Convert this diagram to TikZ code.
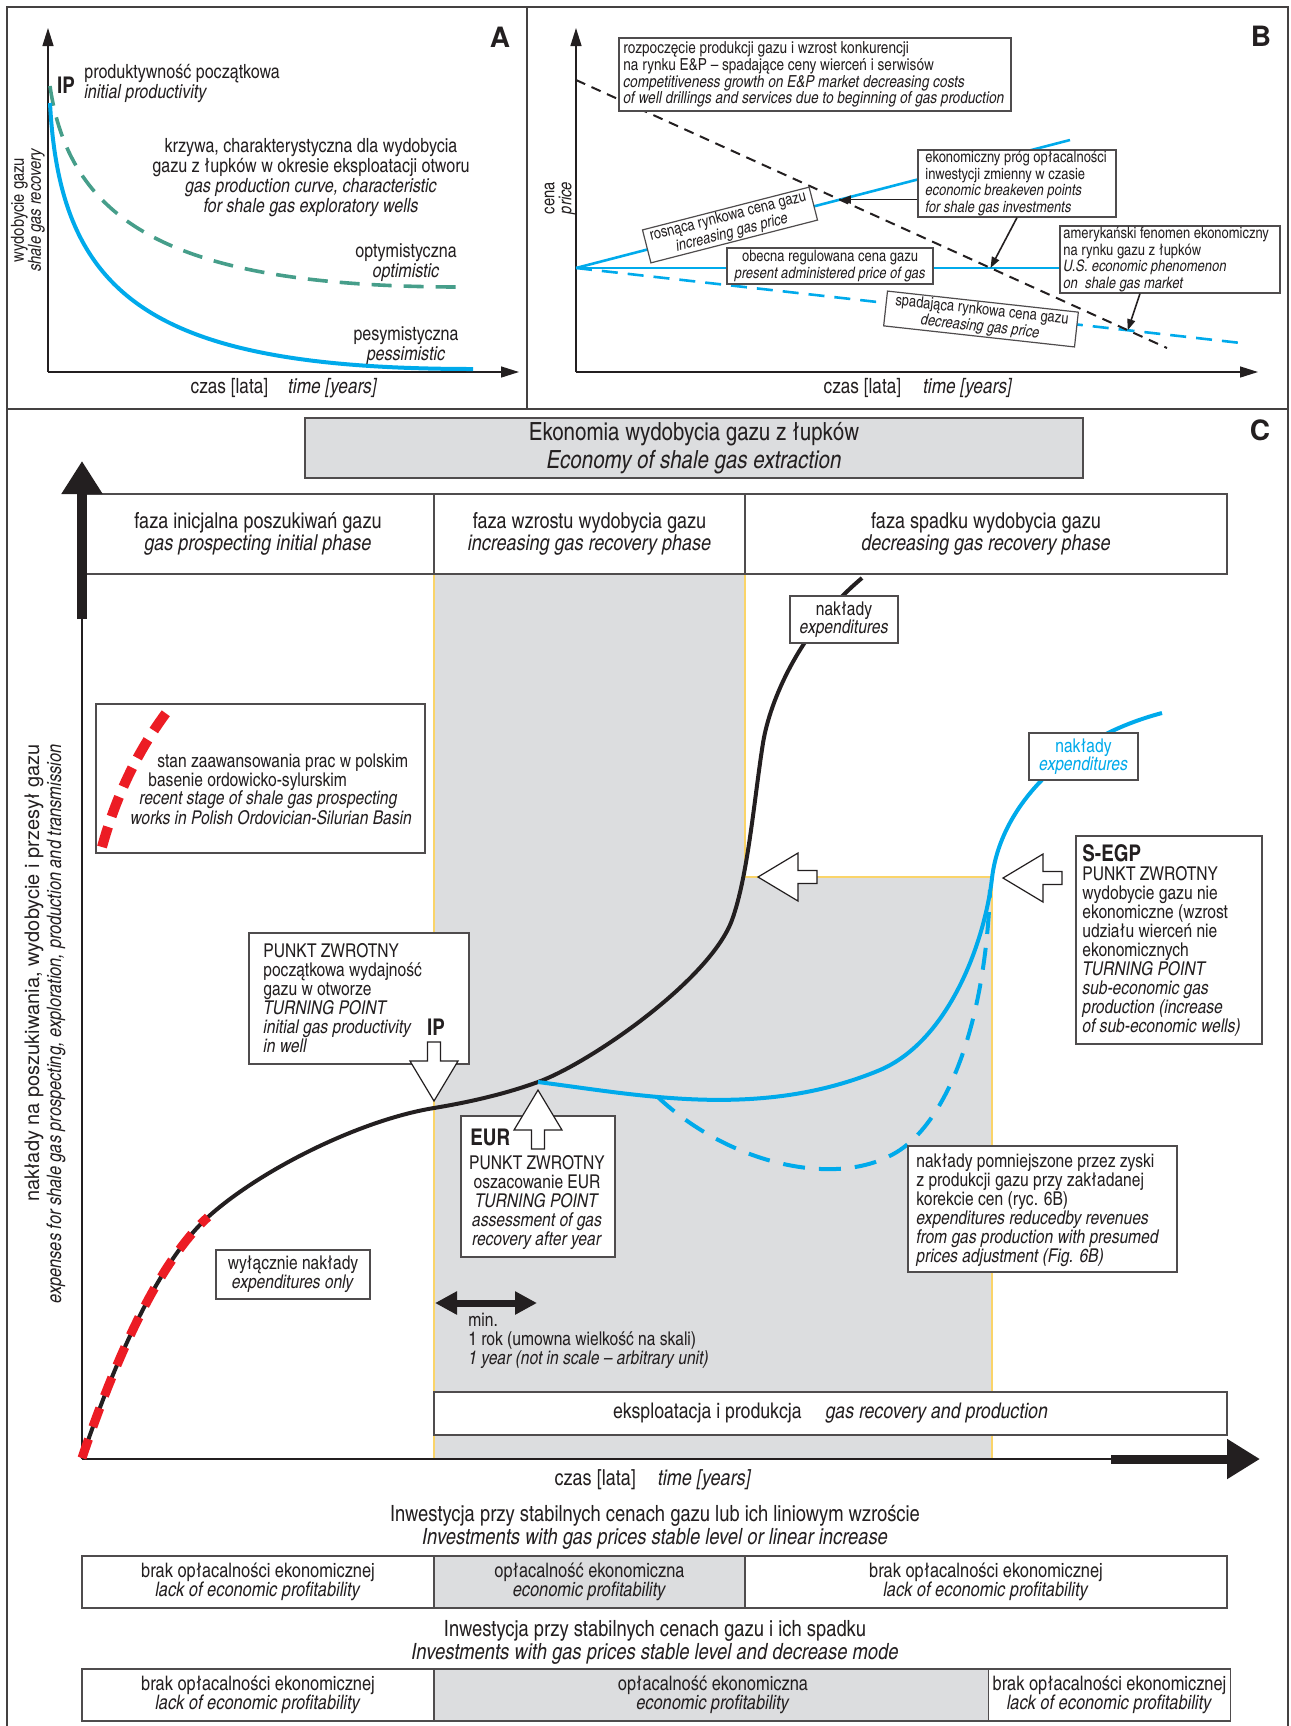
\documentclass[tikz,border=0pt]{standalone}
\usepackage{fontspec}
\setmainfont{texgyreheroscn}[Extension=.otf, UprightFont=*-regular, BoldFont=*-bold, ItalicFont=*-italic, BoldItalicFont=*-bolditalic]
\newfontfamily\blackfont{texgyreheros}[Extension=.otf, UprightFont=*-bold]
\newfontfamily\widefont{texgyreheros}[Extension=.otf, UprightFont=*-regular, ItalicFont=*-italic]
\usetikzlibrary{arrows.meta}

\definecolor{gasblue}{RGB}{0,170,235}
\definecolor{gasgreen}{RGB}{70,158,138}
\definecolor{gasred}{RGB}{236,28,36}
\definecolor{phasegray}{RGB}{220,221,223}
\definecolor{edgeyellow}{RGB}{250,212,105}
\definecolor{ink}{RGB}{35,31,32}

\tikzset{
  frameline/.style={draw=ink!85, line width=1pt},
  thinaxis/.style={draw=ink, line width=0.7pt, -{Triangle[length=9pt,width=5.5pt]}},
  pointer/.style={draw=ink, line width=0.8pt, -{Triangle[length=5.5pt,width=4pt]}},
  txt/.style={inner sep=0pt, align=center, text=ink},
  note/.style={draw=ink!80, fill=white, line width=0.6pt, inner xsep=2pt, inner ysep=0pt, align=center, text=ink},
  fontA/.style={font=\fontsize{9.8}{10}\selectfont},
  fontB/.style={font=\fontsize{7.9}{8.4}\selectfont},
  fontC/.style={font=\fontsize{9.5}{9.5}\selectfont},
  boldtag/.style={inner sep=0pt, text=ink, font=\fontsize{11.5}{12}\selectfont\bfseries},
  panelmark/.style={inner sep=0pt, text=ink, font=\fontsize{14}{14}\selectfont\blackfont},
  cell/.style={note, minimum height=40pt, font=\fontsize{11}{11}\selectfont},
  rowcell/.style={note, minimum height=26pt, line width=0.8pt, font=\fontsize{10}{9.5}\selectfont},
  hollowarrow/.pic={
    \draw[draw=ink, fill=white, line width=0.6pt] (0,0) -- (40,-24) -- (40,-6.5) -- (59,-6.5)
      -- (59,6.5) -- (40,6.5) -- (40,24) -- cycle;
  }
}

\begin{document}
\begin{tikzpicture}[x=0.5pt, y=-0.5pt]
\useasboundingbox (0,0) rectangle (1291,1726);

% frame
\draw[frameline] (7,1726) -- (7,7) -- (1288,7) -- (1288,1726);
\draw[frameline] (7,409) -- (1288,409);
\draw[frameline] (527,7) -- (527,409);

% ---------- A ----------
\coordinate (Aorig) at (48,372);
\draw[thinaxis] (Aorig) -- (48,28);
\draw[thinaxis] (Aorig) -- (519,372);
\draw[gasgreen, line width=1.8pt, dash pattern=on 10pt off 6pt] (50,86) .. controls (70,227) and (180,286) .. (456,287);
\draw[gasblue, line width=2pt] (50,103) .. controls (60,296) and (150,369) .. (473,369);

\node[panelmark] (markA) at (500,37) {A};
\node[boldtag] (ipA) at (66,85) {IP};
\node[txt, fontA, anchor=west, align=left] (ipAlabel) at (84,83) {produktywność początkowa\\\textit{initial productivity}};
\node[txt, fontA] (curveA) at (311,178) {krzywa, charakterystyczna dla wydobycia\\gazu z łupków w okresie eksploatacji otworu\\\textit{gas production curve, characteristic}\\\textit{for shale gas exploratory wells}};
\node[txt, fontA] (optA) at (406,263) {optymistyczna\\\textit{optimistic}};
\node[txt, fontA] (pesA) at (406,346) {pesymistyczna\\\textit{pessimistic}};
\node[txt, rotate=90, font=\fontsize{9}{8.5}\selectfont] (yA) at (28,210) {wydobycie gazu\\\textit{shale gas recovery}};
\node[txt, font=\fontsize{10.5}{10.5}\selectfont] (xA) at (284,388) {czas [lata]\hspace{10pt}\textit{time [years]}};

% ---------- B ----------
\coordinate (Borig) at (576,372);
\draw[thinaxis] (Borig) -- (576,28);
\draw[thinaxis] (Borig) -- (1258,372);
\coordinate (Bstart) at (576,268);
\draw[gasblue, line width=1.3pt] (Bstart) -- (1070,140);
\draw[gasblue, line width=1.3pt] (Bstart) -- (1060,268);
\draw[gasblue, line width=1.3pt, dash pattern=on 8pt off 5pt] (Bstart) -- (1241,343);
\draw[ink, line width=1pt, dash pattern=on 5pt off 3.5pt] (576,80) -- (1167,348);
\coordinate (cutRise) at (839.8,199.6);
\coordinate (cutFlat) at (990.5,268);
\coordinate (cutFall) at (1127.8,330.2);

\node[panelmark] (markB) at (1261,36) {B};
\node[note, minimum width=196pt, minimum height=36.5pt] (costsBox) at (815,74.5) {};
\node[txt, font=\fontsize{8.3}{8.4}\selectfont, anchor=west, align=left] (costs) at (623,74.5) {rozpoczęcie produkcji gazu i wzrost konkurencji\\na rynku E\&P – spadające ceny wierceń i serwisów\\\textit{competitiveness growth on E\&P market decreasing costs}\\\textit{of well drillings and services due to beginning of gas production}};
\node[note, fontB, rotate=14.4, minimum width=86pt, minimum height=17pt] (rising) at (730,225) {rosnąca rynkowa cena gazu\\\textit{increasing gas price}};
\node[note, fontB, minimum width=103pt, minimum height=18pt] (present) at (830,266) {obecna regulowana cena gazu\\\textit{present administered price of gas}};
\node[note, minimum width=99pt, minimum height=33.5pt] (breakeven) at (1017,183.5) {};
\node[txt, fontB, anchor=west, align=left] (breakevenText) at (925,183.5) {ekonomiczny próg opłacalności\\inwestycji zmienny w czasie\\\textit{economic breakeven points}\\\textit{for shale gas investments}};
\node[note, minimum width=110pt, minimum height=33.5pt] (usphen) at (1170,259.5) {};
\node[txt, fontB, anchor=west, align=left] (usphenText) at (1063,259.5) {amerykański fenomen ekonomiczny\\na rynku gazu z łupków\\\textit{U.S. economic phenomenon}\\\textit{on~ shale gas market}};
\node[note, fontB, rotate=-6.3, minimum width=96pt, minimum height=17.5pt] (falling) at (981,319) {spadająca rynkowa cena gazu\\\textit{decreasing gas price}};
\draw[pointer] (breakeven.west |- cutRise) -- (cutRise);
\draw[pointer] (breakeven.south) -- (cutFlat);
\draw[pointer] ([xshift=-15pt]usphen.south) -- (cutFall);

\node[txt, rotate=90, font=\fontsize{9}{8.5}\selectfont] (yB) at (560,198) {cena\\\textit{price}};
\node[txt, font=\fontsize{10.5}{10.5}\selectfont] (xB) at (918,388) {czas [lata]\hspace{11pt}\textit{time [years]}};

% ---------- C ----------
\fill[phasegray] (434,574) -- (745,574) -- (745,877) -- (992,877) -- (992,1459) -- (434,1459) -- cycle;
\draw[edgeyellow, line width=0.8pt] (434,574) -- (434,1459);
\draw[edgeyellow, line width=0.8pt] (745,574) -- (745,877) -- (992,877) -- (992,1459);

\node[panelmark] (markC) at (1260,430) {C};
\node[note, fill=phasegray, minimum width=389pt, minimum height=30pt, font=\fontsize{12.5}{14}\selectfont] (title) at (694,448) {Ekonomia wydobycia gazu z łupków\\\textit{Economy of shale gas extraction}};
\node[cell, minimum width=176pt] (phaseInit) at (258,534) {faza inicjalna poszukiwań gazu\\\textit{gas prospecting initial phase}};
\node[cell, minimum width=155.5pt] (phaseGrow) at (589.5,534) {faza wzrostu wydobycia gazu\\\textit{increasing gas recovery phase}};
\node[cell, minimum width=241pt] (phaseFall) at (986,534) {faza spadku wydobycia gazu\\\textit{decreasing gas recovery phase}};
\node[note, minimum width=396.5pt, minimum height=21.5pt, font=\fontsize{10.8}{10.8}\selectfont] (recovery) at (830.5,1413.5) {eksploatacja i produkcja\hspace{12pt}\textit{gas recovery and production}};

% axes
\coordinate (Corig) at (82,1459);
\draw[ink, line width=1pt] (Corig) -- (82,619) coordinate (CyShaft);
\draw[ink, line width=5pt, -{Triangle[length=16.5pt,width=19.5pt]}] (CyShaft) -- (82,461);
\draw[ink, line width=1pt] (Corig) -- (1111,1459) coordinate (CxShaft);
\draw[ink, line width=4.5pt, -{Triangle[length=16.5pt,width=19pt]}] (CxShaft) -- (1260,1459);

% curves
\draw[ink, line width=2pt] (82,1458) .. controls (105,1390) and (150,1270) .. (208,1217)
  .. controls (260,1170) and (360,1120) .. (434,1108) coordinate (ipC)
  .. controls (470,1102) and (505,1094) .. (538,1082) coordinate (eurC)
  .. controls (590,1063) and (710,980) .. (732,920)
  .. controls (748,876) and (754,800) .. (763,743)
  .. controls (770,700) and (800,630) .. (862,578);
\draw[gasred, line width=4.5pt, dash pattern=on 10pt off 6.5pt] (82,1458) .. controls (105,1390) and (150,1270) .. (208,1217);
\draw[gasblue, line width=2pt] (eurC) .. controls (640,1095) and (760,1120) .. coordinate[pos=0.37] (branch) (880,1070)
  .. controls (950,1040) and (985,940) .. (992,878) coordinate (segpC)
  .. controls (1000,810) and (1060,740) .. (1162,713);
\draw[gasblue, line width=2pt, dash pattern=on 11pt off 7pt] (branch) .. controls (730,1165) and (840,1190) .. (900,1150)
  .. controls (945,1120) and (985,1030) .. (990,890);

% notes
\node[note, minimum width=54pt, minimum height=23.5pt, font=\fontsize{9.5}{9}\selectfont] (costBlack) at (844,619.5) {nakłady\\\textit{expenditures}};
\node[note, text=gasblue, minimum width=54.5pt, minimum height=23.5pt, font=\fontsize{9.5}{9}\selectfont] (costBlue) at (1083.5,756.5) {nakłady\\\textit{expenditures}};

\node[note, minimum width=164.5pt, minimum height=74.5pt] (polandBox) at (260.5,778.5) {};
\draw[gasred, line width=5pt, dash pattern=on 10.5pt off 5.5pt] (102,847) .. controls (115,800) and (135,755) .. (166,713);
\node[txt, fontC, anchor=west] (polandL1) at (157,763) {stan zaawansowania prac w polskim};
\node[txt, fontC, anchor=west] (polandL2) at (148,782) {basenie ordowicko-sylurskim};
\node[txt, fontC, anchor=west] (polandL3) at (139,800) {\textit{recent stage of shale gas prospecting}};
\node[txt, fontC, anchor=west] (polandL4) at (130,818) {\textit{works in Polish Ordovician-Silurian Basin}};

\node[note, minimum width=110pt, minimum height=65.5pt] (ipBox) at (359,998.5) {};
\node[txt, fontC, anchor=west, align=left] (ipText) at (263,998) {PUNKT ZWROTNY\\początkowa wydajność\\gazu w otworze\\\textit{TURNING POINT}\\\textit{initial gas productivity}\\\textit{in well}};
\node[boldtag] (ipTag) at (436,1027) {IP};

\node[note, minimum width=77pt, minimum height=70.5pt] (eurBox) at (538,1186.5) {};
\node[boldtag, anchor=west] (eurTag) at (470,1137) {EUR};
\node[txt, fontC] (eurText) at (537,1203) {PUNKT ZWROTNY\\oszacowanie EUR\\\textit{TURNING POINT}\\\textit{assessment of gas}\\\textit{recovery after year}};

\node[note, minimum width=93pt, minimum height=104pt] (segpBox) at (1169,940) {};
\node[txt, fontC, anchor=west, align=left] (segpText) at (1082,940) {{\fontsize{11.5}{12}\selectfont\bfseries S-EGP}\\PUNKT ZWROTNY\\wydobycie gazu nie\\ekonomiczne (wzrost\\udziału wierceń nie\\ekonomicznych\\\textit{TURNING POINT}\\\textit{sub-economic gas}\\\textit{production (increase}\\\textit{of sub-economic wells)}};

\node[note, minimum width=134.5pt, minimum height=63pt] (revenueBox) at (1042.5,1209) {};
\node[txt, fontC, anchor=west, align=left] (revenueText) at (916,1210) {nakłady pomniejszone przez zyski\\z produkcji gazu przy zakładanej\\korekcie cen (ryc. 6B)\\\textit{expenditures reducedby revenues}\\\textit{from gas production with presumed}\\\textit{prices adjustment (Fig. 6B)}};

\node[note, minimum width=77pt, minimum height=24.5pt, font=\fontsize{9.5}{9.5}\selectfont] (onlyCost) at (293,1274.5) {wyłącznie nakłady\\\textit{expenditures only}};

% block arrows
\pic[rotate=90] (ipArrow) at (434,1101) {hollowarrow};
\pic[rotate=-90] (eurArrow) at (538,1090) {hollowarrow};
\pic (costArrow) at (758,877) {hollowarrow};
\pic (segpArrow) at (1003,878) {hollowarrow};

% one year
\coordinate (yearL) at (435,1303);
\coordinate (yearR) at (537,1303);
\draw[ink, line width=3.5pt, {Triangle[length=11pt,width=11pt]}-{Triangle[length=11pt,width=11pt]}] (yearL) -- (yearR);
\node[txt, fontC, anchor=west, align=left] (minYear) at (468,1341) {min.\\1 rok (umowna wielkość na skali)\\\textit{1 year (not in scale – arbitrary unit)}};

\node[txt, rotate=90, align=right, font=\fontsize{10}{11}\selectfont] (yC) at (45,1024) {{\widefont nakłady na poszukiwania, wydobycie i przesył gazu}\\\textit{expenses for shale gas prospecting, exploration, production and transmission}};
\node[txt, font=\fontsize{11}{11}\selectfont] (xC) at (653,1480) {czas [lata]\hspace{11pt}\textit{time [years]}};

% profitability rows
\node[txt, font=\fontsize{11.2}{10.3}\selectfont] (invStable) at (655,1527) {Inwestycja przy stabilnych cenach gazu lub ich liniowym wzroście\\\textit{Investments with gas prices stable level or linear increase}};
\node[rowcell, minimum width=176pt] (rowA1) at (258,1582) {brak opłacalności ekonomicznej\\\textit{lack of economic profitability}};
\node[rowcell, fill=phasegray, minimum width=155.5pt] (rowA2) at (589.5,1582) {opłacalność ekonomiczna\\\textit{economic profitability}};
\node[rowcell, minimum width=241pt] (rowA3) at (986,1582) {brak opłacalności ekonomicznej\\\textit{lack of economic profitability}};
\node[txt, font=\fontsize{11.2}{10.3}\selectfont] (invFall) at (655,1642.5) {Inwestycja przy stabilnych cenach gazu i ich spadku\\\textit{Investments with gas prices stable level and decrease mode}};
\node[rowcell, minimum width=176pt] (rowB1) at (258,1695) {brak opłacalności ekonomicznej\\\textit{lack of economic profitability}};
\node[rowcell, fill=phasegray, minimum width=279pt] (rowB2) at (713,1695) {opłacalność ekonomiczna\\\textit{economic profitability}};
\node[rowcell, minimum width=117.5pt] (rowB3) at (1109.5,1695) {brak opłacalności ekonomicznej\\\textit{lack of economic profitability}};
\end{tikzpicture}
\end{document}
